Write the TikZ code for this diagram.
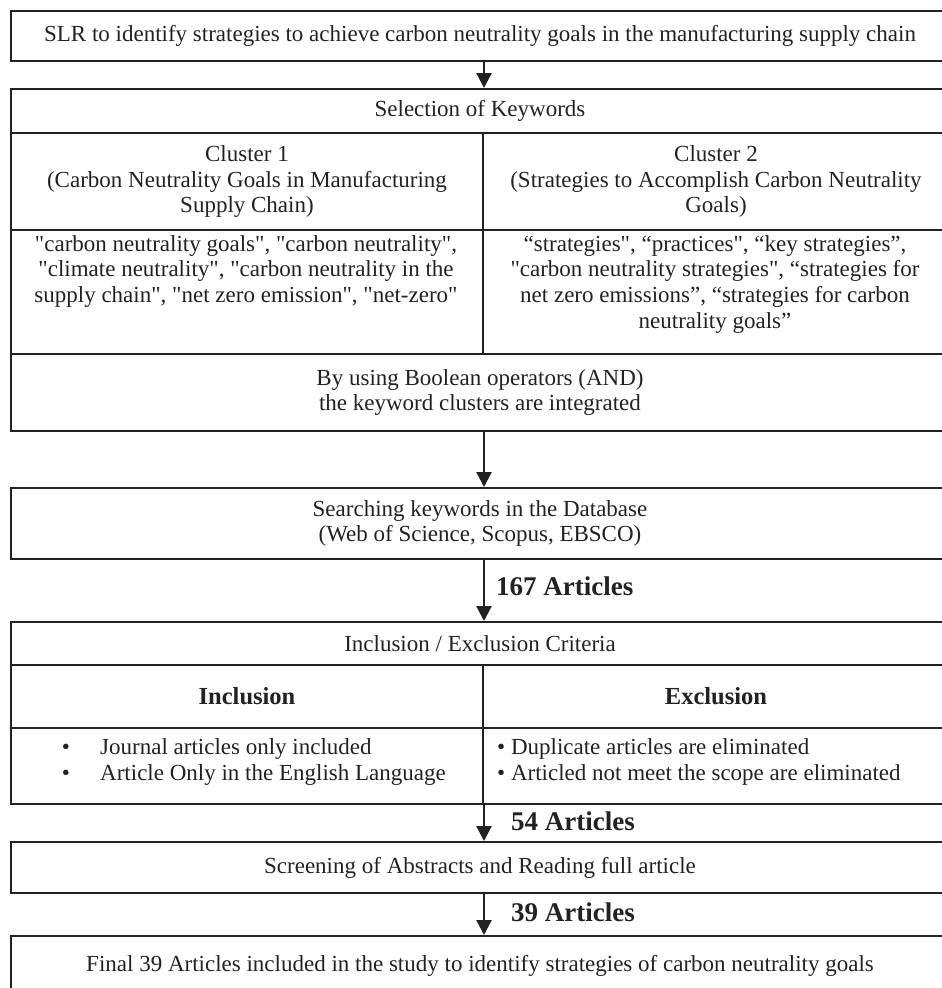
\documentclass[tikz,border=0pt]{standalone}
\usepackage{fontspec}
\setmainfont{Liberation Serif}
\usetikzlibrary{arrows.meta}
\definecolor{ink}{HTML}{222222}
% straight double quote, set as a glyph so the TeX ligature mapping leaves it alone
\newcommand\sq{\XeTeXglyph\XeTeXcharglyph"22\relax}
\begin{document}
\begin{tikzpicture}[x=1pt,y=-1pt,
  cell/.style={draw=ink, line width=2pt, rectangle, anchor=north west,
    inner sep=0pt, align=center, text=ink,
    font=\fontsize{23}{25.7}\selectfont},
  head/.style={cell, font=\fontsize{24.5}{28}\selectfont\bfseries},
  txt/.style={inner sep=0pt, text=ink, font=\fontsize{23}{25.7}\selectfont},
  flow/.style={draw=ink, line width=2.4pt, -{Triangle[width=15pt,length=15pt]}},
  count/.style={anchor=west, inner sep=0pt, text=ink,
    font=\fontsize{27}{30}\selectfont\bfseries}]
\useasboundingbox (0,0) rectangle (942,988);
\fill[white] (0,0) rectangle (942,988);
\clip (0,0) rectangle (942,988);

% title box
\node[cell, minimum width=938, minimum height=50] (slr) at (10,10)
  {SLR to identify strategies to achieve carbon neutrality goals in the manufacturing supply chain};

% keyword selection table
\node[cell, minimum width=938, minimum height=44] (kw) at (10,88) {Selection of Keywords};
\node[cell, minimum width=472, minimum height=97] (c1) at (10,132)
  {Cluster 1\\(Carbon Neutrality Goals in Manufacturing\\Supply Chain)};
\node[cell, minimum width=466, minimum height=97] (c2) at (482,132)
  {Cluster 2\\(Strategies to Accomplish Carbon Neutrality\\Goals)};
\node[cell, minimum width=472, minimum height=124] (k1) at (10,229) {};
\node[cell, minimum width=466, minimum height=124] (k2) at (482,229) {};
\node[txt, align=center, anchor=north] (k1t) at (246,235)
  {\sq carbon neutrality goals\sq, \sq carbon neutrality\sq,\\\sq climate neutrality\sq, \sq carbon neutrality in the\\supply chain\sq, \sq net zero emission\sq, \sq net-zero\sq};
\node[txt, align=center, anchor=north] (k2t) at (715,235)
  {“strategies\sq, “practices\sq, “key strategies”,\\\sq carbon neutrality strategies\sq, “strategies for\\net zero emissions”, “strategies for carbon\\neutrality goals”};
\node[cell, minimum width=938, minimum height=77] (bool) at (10,353)
  {By using Boolean operators (AND)\\the keyword clusters are integrated};

% database search
\node[cell, minimum width=938, minimum height=71] (db) at (10,487)
  {Searching keywords in the Database\\(Web of Science, Scopus, EBSCO)};

% inclusion / exclusion table
\node[cell, minimum width=938, minimum height=43] (crit) at (10,621) {Inclusion / Exclusion Criteria};
\node[head, minimum width=472, minimum height=63] (inc) at (10,664) {Inclusion};
\node[head, minimum width=466, minimum height=63] (exc) at (482,664) {Exclusion};
\node[cell, minimum width=472, minimum height=76] (incb) at (10,727) {};
\node[cell, minimum width=466, minimum height=76] (excb) at (482,727) {};
\node[txt] (ib1) at (66,749) {•};
\node[txt, anchor=west] (it1) at (100,749) {Journal articles only included};
\node[txt] (ib2) at (66,775) {•};
\node[txt, anchor=west] (it2) at (100,775) {Article Only in the English Language};
\node[txt, anchor=west] (et1) at (497,749) {• Duplicate articles are eliminated};
\node[txt, anchor=west] (et2) at (497,775) {• Articled not meet the scope are eliminated};

% screening and final selection
\node[cell, minimum width=938, minimum height=51] (scr) at (10,841)
  {Screening of Abstracts and Reading full article};
\node[cell, minimum width=938, minimum height=80, text depth=26] (fin) at (10,935)
  {Final 39 Articles included in the study to identify strategies of carbon neutrality goals};

% connectors
\draw[flow] (slr.south -| c1.east) -- (kw.north -| c1.east);
\draw[flow] (bool.south -| c1.east) -- (db.north -| c1.east);
\draw[flow] (db.south -| c1.east) -- (crit.north -| c1.east);
\draw[flow] (incb.south east) -- (scr.north -| incb.east);
\draw[flow] (scr.south -| incb.east) -- (fin.north -| incb.east);

% article counts
\node[count] (n167) at (496,586) {167 Articles};
\node[count] (n54) at (511,821) {54 Articles};
\node[count] (n39) at (511,912) {39 Articles};
\end{tikzpicture}
\end{document}
